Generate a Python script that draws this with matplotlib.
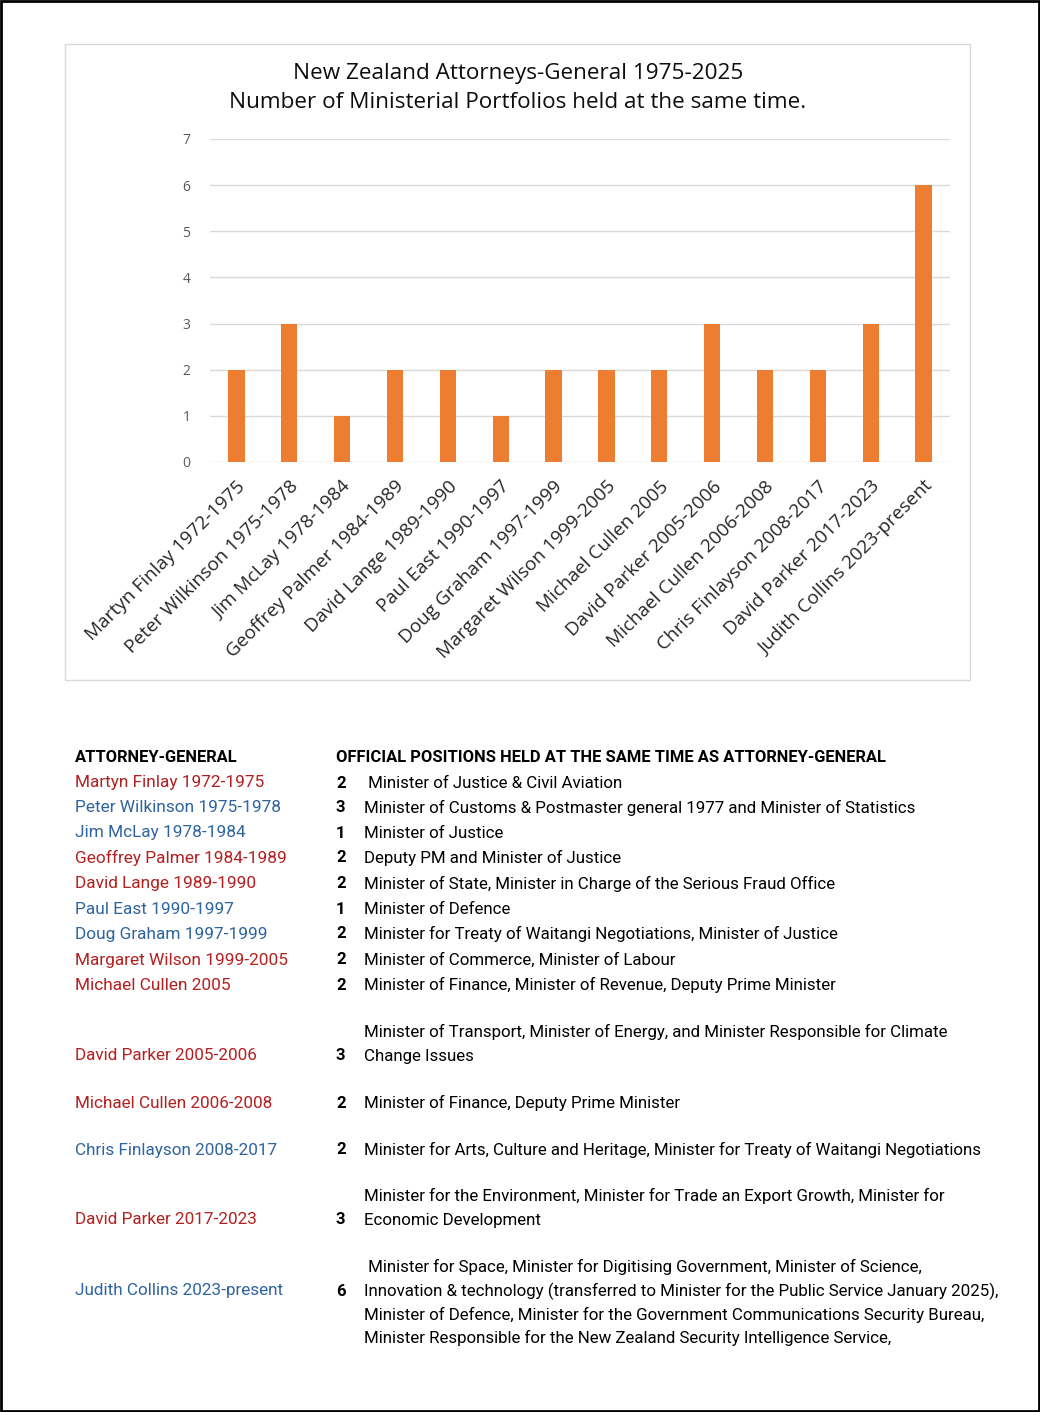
import matplotlib.pyplot as plt
import numpy as np
from matplotlib.patches import Rectangle

W, H = 1040, 1412

names = ['Martyn Finlay 1972-1975', 'Peter Wilkinson 1975-1978', 'Jim McLay 1978-1984',
         'Geoffrey Palmer 1984-1989', 'David Lange 1989-1990', 'Paul East 1990-1997',
         'Doug Graham 1997-1999', 'Margaret Wilson 1999-2005', 'Michael Cullen 2005',
         'David Parker 2005-2006', 'Michael Cullen 2006-2008', 'Chris Finlayson 2008-2017',
         'David Parker 2017-2023', 'Judith Collins 2023-present']
portfolios = [2, 3, 1, 2, 2, 1, 2, 2, 2, 3, 2, 2, 3, 6]
party = ['L', 'N', 'N', 'L', 'L', 'N', 'N', 'L', 'L', 'L', 'L', 'N', 'L', 'N']
positions = [
    ' Minister of Justice & Civil Aviation',
    'Minister of Customs & Postmaster general 1977 and Minister of Statistics',
    'Minister of Justice',
    'Deputy PM and Minister of Justice',
    'Minister of State, Minister in Charge of the Serious Fraud Office',
    'Minister of Defence',
    'Minister for Treaty of Waitangi Negotiations, Minister of Justice',
    'Minister of Commerce, Minister of Labour',
    'Minister of Finance, Minister of Revenue, Deputy Prime Minister',
    ['Minister of Transport, Minister of Energy, and Minister Responsible for Climate',
     'Change Issues'],
    'Minister of Finance, Deputy Prime Minister',
    'Minister for Arts, Culture and Heritage, Minister for Treaty of Waitangi Negotiations',
    ['Minister for the Environment, Minister for Trade an Export Growth, Minister for',
     'Economic Development'],
    [' Minister for Space, Minister for Digitising Government, Minister of Science,',
     'Innovation & technology (transferred to Minister for the Public Service January 2025),',
     'Minister of Defence, Minister for the Government Communications Security Bureau,',
     'Minister Responsible for the New Zealand Security Intelligence Service,'],
]
party_colors = {'L': '#B41F1F', 'N': '#2E64A0'}

fig = plt.figure(figsize=(W / 100, H / 100), dpi=100)


def fx(x):
    return x / W


def fy(y):
    return 1 - y / H


# outer frame and chart frame
fig.patches.append(Rectangle((0.001, 0.001), 0.998, 0.998, transform=fig.transFigure,
                             fill=False, edgecolor='black', lw=2))
fig.patches.append(Rectangle((fx(65), fy(680)), fx(970) - fx(65), fy(44) - fy(680),
                             transform=fig.transFigure, fill=False, edgecolor='#d9d9d9', lw=1))

# bar chart
ax = fig.add_axes([fx(210), fy(462), fx(950) - fx(210), fy(139) - fy(462)])
x = np.arange(len(names))
ax.bar(x, portfolios, width=0.31, color='#ED7D31', zorder=3)
ax.set_xlim(-0.5, len(names) - 0.5)
ax.set_ylim(0, 7)
ax.set_yticks(range(8))
ax.grid(axis='y', color='#d9d9d9', lw=1, zorder=0)
for s in ax.spines.values():
    s.set_visible(False)
ax.tick_params(axis='y', length=0, labelsize=10, labelcolor='#595959', pad=14)
ax.tick_params(axis='x', length=0, pad=11)
ax.set_xticks(x)
ax.set_xticklabels(names, rotation=45, ha='right', va='top', rotation_mode='anchor',
                   fontsize=13.7, family='Open Sans', color='#262626')
for lbl in ax.get_yticklabels():
    lbl.set_family('Open Sans')

fig.text(fx(518), fy(73), 'New Zealand Attorneys-General 1975-2025', ha='center', va='center',
         fontsize=16.2, family='Open Sans', color='#0d0d0d')
fig.text(fx(518), fy(103), 'Number of Ministerial Portfolios held at the same time.', ha='center',
         va='center', fontsize=16.2, family='Open Sans', color='#0d0d0d')

# table
fig.text(fx(75), fy(757), 'ATTORNEY-GENERAL', ha='left', va='center', fontsize=11.9,
         family='Roboto', weight='bold')
fig.text(fx(336), fy(757), 'OFFICIAL POSITIONS HELD AT THE SAME TIME AS ATTORNEY-GENERAL',
         ha='left', va='center', fontsize=11.9, family='Roboto', weight='bold')

row_y = [783, 808, 833, 858, 884, 909, 934, 960, 985, 1056, 1103, 1150, 1220, 1291]
line_step = 23.7
for i in range(len(names)):
    y = row_y[i]
    name_size = 12.4 if i < 9 else 12.3
    text_size = 12.2
    fig.text(fx(75), fy(y), names[i], ha='left', va='center', fontsize=name_size,
             family='Roboto', color=party_colors[party[i]])
    fig.text(fx(336), fy(y), str(portfolios[i]), ha='left', va='center', fontsize=12,
             family='Roboto', weight='bold')
    lines = positions[i] if isinstance(positions[i], list) else [positions[i]]
    if len(lines) == 1:
        starts = [y]
    elif len(lines) == 2:
        starts = [y - line_step, y]
    else:
        starts = [y - line_step + k * line_step for k in range(len(lines))]
    for ly, txt in zip(starts, lines):
        fig.text(fx(364), fy(ly), txt, ha='left', va='center', fontsize=text_size,
                 family='Roboto')

fig.savefig('out.png', dpi=100)
